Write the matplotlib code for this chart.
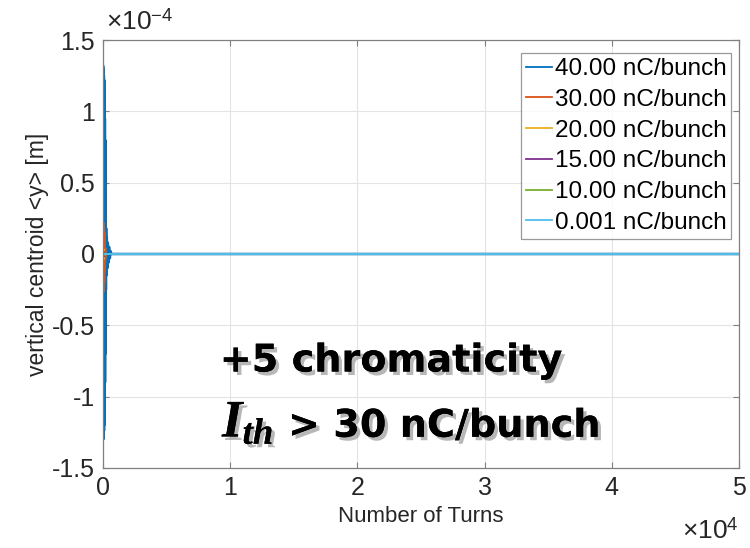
import matplotlib
matplotlib.use("Agg")
import matplotlib.pyplot as plt
import matplotlib.patheffects as pe

# ---------------- data (y values in units of 1e-4 m) ----------------
labels = ["40.00 nC/bunch", "30.00 nC/bunch", "20.00 nC/bunch",
          "15.00 nC/bunch", "10.00 nC/bunch", "0.001 nC/bunch"]

turns_40 = [0, 10, 20, 30, 40, 50, 60, 70, 80, 90, 100, 110, 120, 130, 140, 150,
            160, 170, 180, 190, 200, 215, 230, 250, 270, 300, 340, 380, 430, 480,
            540, 600, 660, 50000]
y_40 = [0, 1.32, -1.30, 1.30, -1.29, 1.28, -1.27, 1.25, -1.24, 1.22, -1.20, 1.15,
        -1.12, 1.05, -1.00, 0.95, -0.90, 0.80, -0.70, 0.55, -0.45, 0.32, -0.25,
        0.18, -0.15, 0.12, -0.10, 0.08, -0.06, 0.05, -0.03, 0.02, 0.0, 0.0]

turns_30 = [0, 10, 20, 30, 40, 50, 60, 70, 80, 90, 100, 115, 130, 150, 170, 200,
            240, 280, 50000]
y_30 = [0, 0.22, -0.27, 0.22, -0.26, 0.21, -0.25, 0.20, -0.23, 0.18, -0.20, 0.15,
        -0.12, 0.09, -0.06, 0.04, -0.02, 0.0, 0.0]

turns_20 = [0, 15, 30, 45, 60, 80, 100, 130, 50000]
y_20 = [0, 0.04, -0.04, 0.03, -0.03, 0.02, -0.01, 0.0, 0.0]

turns_15 = [0, 15, 30, 45, 60, 80, 100, 50000]
y_15 = [0, 0.02, -0.02, 0.015, -0.015, 0.01, 0.0, 0.0]

turns_10 = [0, 15, 30, 45, 60, 80, 50000]
y_10 = [0, 0.01, -0.01, 0.008, -0.006, 0.0, 0.0]

turns_0001 = [0, 50000]
y_0001 = [0.0, 0.0]

x_ticks = [0, 10000, 20000, 30000, 40000, 50000]
x_ticklabels = ["0", "1", "2", "3", "4", "5"]
y_ticks = [-1.5, -1, -0.5, 0, 0.5, 1, 1.5]
y_ticklabels = ["-1.5", "-1", "-0.5", "0", "0.5", "1", "1.5"]

colors = ["#0072BD", "#D95319", "#EDB120", "#7E2F8E", "#77AC30", "#4DBEEE"]
widths = [1.8, 1.5, 1.4, 1.4, 1.4, 1.4]

# ---------------- figure ----------------
FONT = ["Liberation Sans", "DejaVu Sans"]
plt.rcParams["font.family"] = FONT
plt.rcParams["mathtext.fontset"] = "custom"
plt.rcParams["mathtext.it"] = "Liberation Serif:italic:bold"
plt.rcParams["mathtext.rm"] = "Liberation Sans"

fig = plt.figure(figsize=(7.5, 5.48), dpi=100)
ax = fig.add_axes([0.1373, 0.146, 0.848, 0.781])

series = [(turns_40, y_40), (turns_30, y_30), (turns_20, y_20),
          (turns_15, y_15), (turns_10, y_10), (turns_0001, y_0001)]
for (tx, ty), c, lw, lab in zip(series, colors, widths, labels):
    ax.plot(tx, ty, color=c, lw=lw, label=lab)

ax.set_xlim(0, 50000)
ax.set_ylim(-1.5, 1.5)
ax.set_xticks(x_ticks)
ax.set_xticklabels(x_ticklabels)
ax.set_yticks(y_ticks)
ax.set_yticklabels(y_ticklabels)

txtc = "#262626"
ax.tick_params(direction="in", length=4, width=0.8, colors="#808080",
               labelcolor=txtc, labelsize=18, top=True, right=True, pad=6)
for s in ax.spines.values():
    s.set_color("#808080")
    s.set_linewidth(0.9)
ax.grid(True, color="#e3e3e3", lw=0.8)
ax.set_axisbelow(True)

ax.set_xlabel("Number of Turns", fontsize=16, color=txtc, labelpad=4)
ax.set_ylabel("vertical centroid <y> [m]", fontsize=16.5, color=txtc, labelpad=2)

fig.text(0.142, 0.937, r"$\times$10$^{\mathregular{-4}}$", fontsize=19, color=txtc,
         ha="left", va="bottom")
fig.text(0.985, 0.008, r"$\times$10$^{\mathregular{4}}$", fontsize=19, color=txtc,
         ha="right", va="bottom")

leg = ax.legend(loc="upper right", fontsize=17.5, frameon=True, fancybox=False,
                handlelength=1.05, handletextpad=0.12, borderpad=0.2,
                labelspacing=0.36, borderaxespad=0.0,
                bbox_to_anchor=(0.988, 0.969))
leg.get_frame().set_edgecolor("#808080")
leg.get_frame().set_linewidth(0.9)
for t in leg.get_texts():
    t.set_color("black")
for h in leg.get_lines():
    h.set_linewidth(1.3)

shadow = [pe.withSimplePatchShadow(offset=(2.5, -2.5), shadow_rgbFace="#888888", alpha=0.6),
          pe.Normal()]
fig.text(0.293, 0.322, "+5 chromaticity", fontsize=27.5, fontweight="bold",
         family=["DejaVu Sans"], color="black", path_effects=shadow)
fig.text(0.296, 0.203, r"$I_{th}$", fontsize=38, color="black", path_effects=shadow)
fig.text(0.384, 0.203, "> 30 nC/bunch", fontsize=27.5, fontweight="bold",
         family=["DejaVu Sans"], color="black", path_effects=shadow)

fig.savefig("out.png", dpi=100)
